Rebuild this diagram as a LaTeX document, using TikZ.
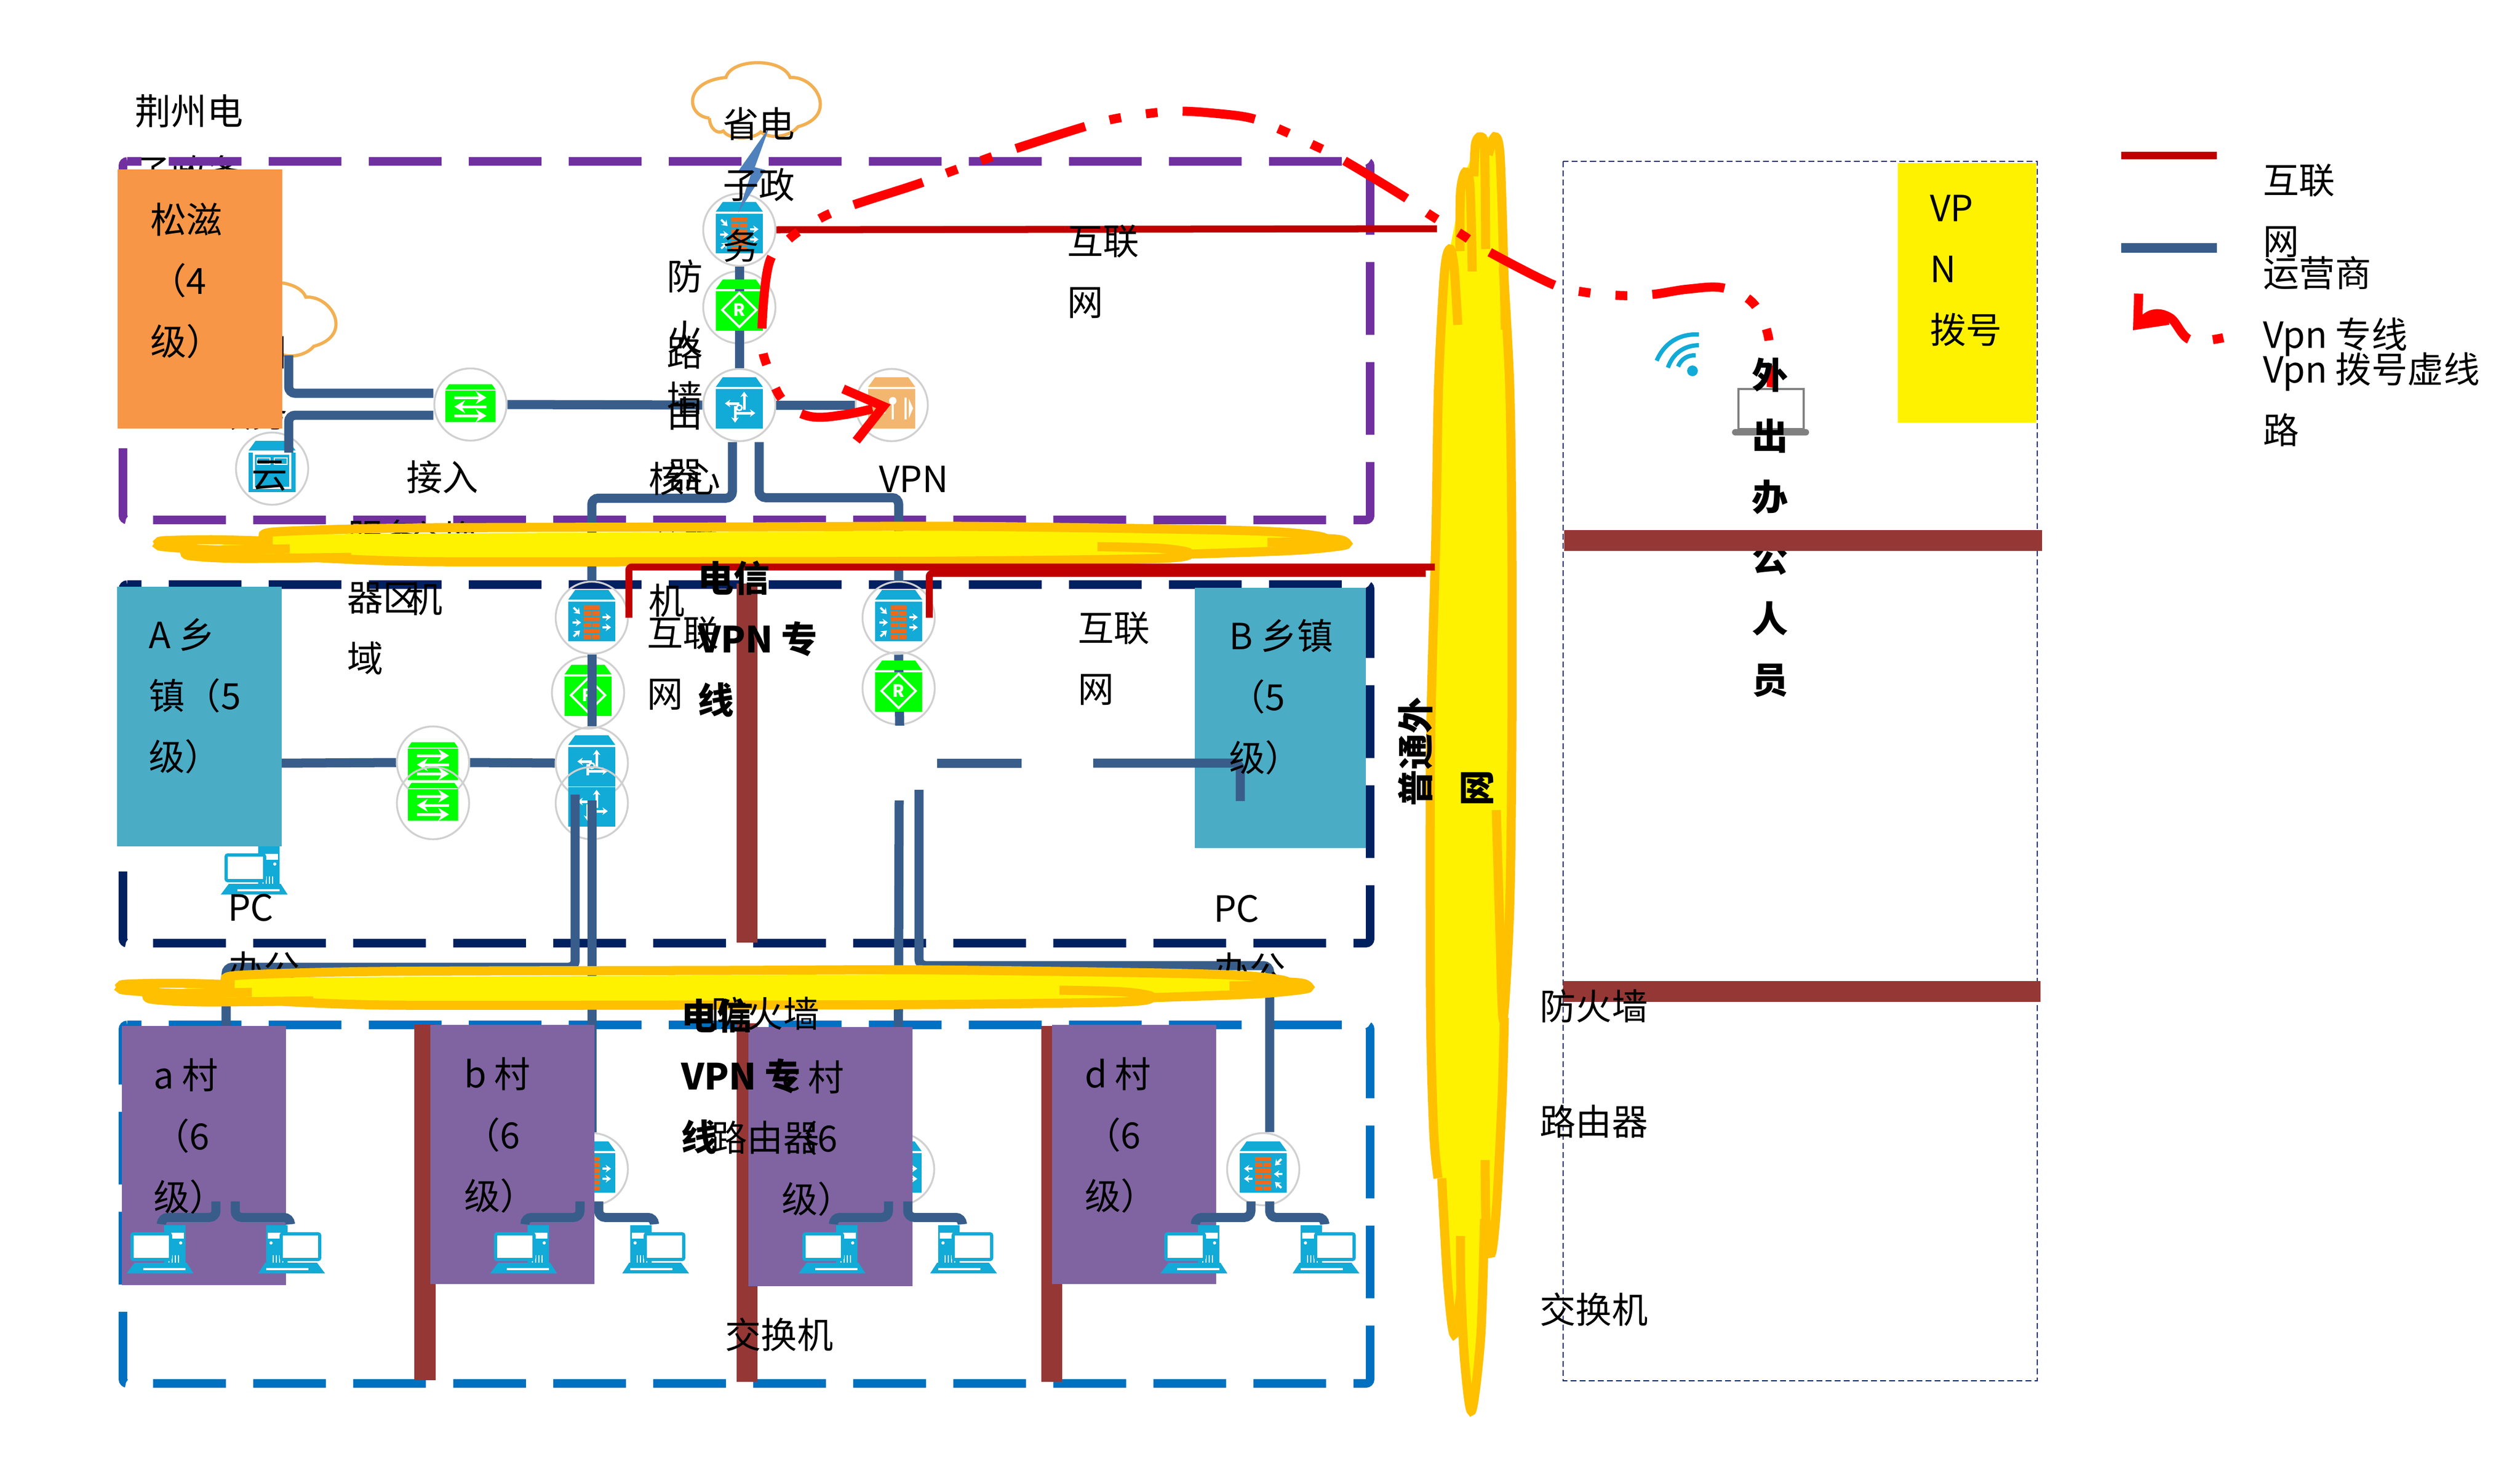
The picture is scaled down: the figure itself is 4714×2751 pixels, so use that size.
\documentclass[tikz,border=0pt]{standalone}
\usepackage{fontspec}
\newfontfamily\cjk{Noto Sans CJK SC}
\usetikzlibrary{arrows.meta}

\definecolor{zonepurple}{HTML}{7030A0}
\definecolor{zonenavy}{HTML}{002060}
\definecolor{zoneblue}{HTML}{0070C0}
\definecolor{steel}{HTML}{385D8A}
\definecolor{netred}{HTML}{C00000}
\definecolor{brownbar}{HTML}{953735}
\definecolor{gold}{HTML}{FFC000}
\definecolor{devblue}{HTML}{12AAD6}
\definecolor{brick}{HTML}{EE6A1B}
\definecolor{vpnorange}{HTML}{F3B670}
\definecolor{ringgray}{HTML}{D0D0D0}
\definecolor{cloudtan}{HTML}{F2B053}
\definecolor{boxorange}{HTML}{F79646}
\definecolor{boxteal}{HTML}{4BACC6}
\definecolor{boxviolet}{HTML}{8064A2}
\definecolor{boltblue}{HTML}{4F81BD}

\newcommand{\devbody}[1]{
    \fill[#1] (-44,-34) -- (-31,-52) -- (31,-52) -- (44,-34) -- cycle;
    \fill[#1] (-44,-30) rectangle (44,44);
}

\tikzset{
    lblbase/.style={anchor=north west, inner sep=0pt, outer sep=0pt, align=left,
        font=\cjk\fontsize{19.2}{32.4}\selectfont, execute at begin node={\strut}},
    lbl/.style={lblbase, xshift=-.02cm, yshift=.30cm},
    lblone/.style={lblbase, xshift=-.02cm, yshift=.55cm},
    lblbold/.style={lbl, font=\cjk\bfseries\fontsize{19.2}{32.4}\selectfont},
    zone/.style={line width=.16cm, rounded corners=.08cm, dash pattern=on 1.36cm off .51cm, dash phase=1.095cm},
    uplink/.style={steel, line width=.17cm, rounded corners=.12cm},
    redlink/.style={netred, line width=.13cm, rounded corners=.06cm},
    brownline/.style={brownbar, line width=.39cm},
    vpnline/.style={red, line width=.17cm, dash pattern=on 1.36cm off .47cm on .22cm off .47cm on .22cm off .47cm,
        -{Straight Barb[length=.65cm,width=1cm]}},
    edgecloud/.style={gold, line width=.17cm},
    region/.style={fill=#1, anchor=north west, inner sep=0pt, outer sep=0pt},
    devring/.style={circle, draw=ringgray, line width=.035cm, minimum size=1.35cm, inner sep=0pt},
    pcbox/.style={minimum width=1.24cm, minimum height=.89cm, inner sep=0pt},
    iconarrow/.style={white, line width=.04cm, -{Stealth[length=.1cm,width=.14cm]}},
    swarrow/.style={white, line width=.05cm, -{Stealth[length=.2cm,width=.24cm]}},
    netcloud/.pic={
        \draw[cloudtan, line width=.06cm] (34,104) .. controls (-10,100) and (-15,35) .. (65,28)
            .. controls (75,-8) and (170,-10) .. (185,28) .. controls (235,25) and (275,100) .. (200,120)
            .. controls (185,138) and (150,145) .. (130,130) .. controls (115,145) and (70,145) .. (60,128)
            .. controls (50,135) and (35,125) .. (34,104);
    },
    fwicon/.pic={
        \devbody{devblue}
        \foreach \r in {0,2,4} {
            \fill[brick] (-15,{-23+11*\r}) rectangle (15,{-15.5+11*\r});
        }
        \foreach \r in {1,3,5} {
            \fill[brick] (-15,{-23+11*\r}) rectangle (-1,{-15.5+11*\r});
            \fill[brick] (1,{-23+11*\r}) rectangle (15,{-15.5+11*\r});
        }
        \draw[iconarrow] (20,-1) -- (36,-1);
        \draw[iconarrow] (20,18) -- (36,18);
        \draw[iconarrow] (-36,9) -- (-20,9);
        \draw[iconarrow] (-34,-19) -- (-22,-7);
        \draw[iconarrow] (-34,35) -- (-22,24);
    },
    rticon/.pic={
        \devbody{devblue}
        \draw[iconarrow, line width=.05cm] (0,-3) -- (-27,-3);
        \draw[iconarrow, line width=.05cm] (9,9) -- (9,-25);
        \draw[iconarrow, line width=.05cm] (-10,15) -- (30,15);
        \draw[iconarrow, line width=.05cm] (-8,2) -- (-8,33);
        \draw[white, line width=.03cm] (0,5) circle[radius=.05cm];
    },
    rgicon/.pic={
        \devbody{green}
        \draw[white, line width=.04cm] (0,-27) -- (32,5) -- (0,37) -- (-32,5) -- cycle;
        \node[text=white, font=\cjk\bfseries\fontsize{9}{9}\selectfont, inner sep=0pt] (rmark) at (0,5) {R};
    },
    swicon/.pic={
        \fill[green] (-47,-28) -- (-40,-38) -- (40,-38) -- (47,-28) -- cycle;
        \fill[green] (-47,-26) rectangle (47,33);
        \draw[swarrow] (-30,-13) -- (30,-13);
        \draw[swarrow] (30,4) -- (-30,4);
        \draw[swarrow] (-30,21) -- (30,21);
    },
    svicon/.pic={
        \devbody{devblue}
        \draw[white, line width=.04cm] (-34,-28) rectangle (34,36);
        \draw[white, line width=.02cm] (-28,-20) rectangle (-4,-8);
        \draw[white, line width=.02cm] (4,-20) rectangle (28,-8);
    },
    vpicon/.pic={
        \devbody{vpnorange}
        \fill[white] (2,-8) circle[radius=.07cm];
        \draw[white, line width=.04cm] (2,-8) -- (2,27);
        \draw[white, line width=.04cm] (26,-14) -- (26,27);
        \fill[white] (32,-12) -- (40,6) -- (32,25) -- cycle;
        \draw[iconarrow] (-30,-2) -- (-12,-2);
        \draw[iconarrow] (-12,14) -- (-30,14);
    },
    pcicon/.pic={
        \fill[devblue] (5,-46) rectangle (45,28);
        \fill[white] (10,-32) rectangle (42,-21);
        \fill[white] (36,-13) circle[radius=.03cm];
        \foreach \v in {14,20,26,32} {
            \draw[white, line width=.015cm] (\v,10) -- (\v,24);
        }
        \fill[devblue] (60,44) -- (-65,44) -- (-50,24) -- (47,24) -- cycle;
        \fill[white] (-34,34) rectangle (45,38);
        \fill[devblue] (-33,28) rectangle (0,33);
        \draw[devblue, line width=.06cm, fill=white, rounded corners=.03cm] (-55,-30) rectangle (17,18);
    },
    bandcloud/.pic={
        \fill[yellow] (510,1000) -- (2300,990) -- (2480,1012) -- (2225,1040) -- (1300,1050) -- (600,1045) -- (370,1030) -- cycle;
        \draw[edgecloud] plot[smooth, tension=.5] coordinates {(510,1013) (400,1010) (305,1012) (298,1018) (305,1023) (400,1029) (542,1027)};
        \draw[edgecloud] plot[smooth, tension=.5] coordinates {(657,1043) (450,1045) (355,1040) (349,1030) (370,1025)};
        \draw[edgecloud] plot[smooth, tension=.5] coordinates {(495,1004) (520,995) (780,988) (1430,986) (1800,985) (2245,991) (2400,996) (2474,1005) (2467,1013) (2371,1015)};
        \draw[edgecloud] plot[smooth, tension=.5] coordinates {(2053,1023) (2170,1026) (2225,1035) (2170,1045) (1790,1050) (1300,1051) (800,1051) (600,1044)};
        \draw[edgecloud] plot[smooth, tension=.5] coordinates {(2225,1037) (2420,1030) (2512,1021) (2517,1014) (2500,1009) (2440,1006)};
    }
}

\begin{document}
\begin{tikzpicture}[x=.01cm, y=-.01cm]
        \useasboundingbox (0,0) rectangle (4714,2751);

        % labels and clouds that the boxes cover
        \node[lbl] (lbjingzhou) at (254,207) {荆州电\\子政务};
        \pic at (1293,117) {netcloud};
        \pic at (387,528) {netcloud};
        \node[devring] (svyun) at (509,877) {};
        \pic at (svyun) {svicon};
        \node[lbl, anchor=north east, align=right] (lbyun) at (540,659) {荆州\\政务\\云};

        \foreach \col/\top in {zonepurple/302, zonenavy/1094, zoneblue/1918} {
            \draw[zone, \col] (230,\top) -- (2563,\top) -- (2563,{\top+671}) -- (230,{\top+671}) -- cycle;
        }

        \draw[brownline] (1397,1092) -- (1397,1764);
        \draw[brownline] (795,1917) -- (795,2583);
        \draw[brownline] (1397,1915) -- (1397,2586);
        \draw[brownline] (1967,1920) -- (1967,2586);

        % devices of the town A zone
        \node[devring] (fwza) at (1107,1156) {};
        \pic at (fwza) {fwicon};
        \node[devring] (rgza) at (1100,1296) {};
        \pic at (rgza) {rgicon};
        \node[devring] (rtza1) at (1107,1428) {};
        \pic at (rtza1) {rticon};
        \node[devring] (rtza2) at (1107,1503) {};
        \pic at (rtza2) {rticon};
        \node[devring] (swza1) at (810,1427) {};
        \pic at (swza1) {swicon};
        \node[devring] (swza2) at (810,1503) {};
        \pic at (swza2) {swicon};

        % village firewalls
        \node[devring] (fwa) at (423,2188) {};
        \pic at (fwa) {fwicon};
        \node[devring] (fwb) at (1107,2188) {};
        \pic at (fwb) {fwicon};
        \node[devring] (fwc) at (1680,2188) {};
        \pic at (fwc) {fwicon};
        \node[devring] (fwd) at (2363,2188) {};
        \pic[xscale=-1] at (fwd) {fwicon};

        \coordinate (zbup) at (1682,1498);
        \coordinate (zbdn) at (1719,1478);
        \draw[uplink] (fwza.south) -- (rtza1.north);
        \draw[uplink] ([shift={(-.31cm,.16cm)}]rtza2.center) -- ++(0,323) -| (fwa.north);
        \draw[uplink] ([yshift=.05cm]rtza2.center) -- (fwb.north);
        \draw[uplink] (zbup) -- (fwc.north);
        \draw[uplink] (zbdn) |- (2200,1807) -| ([xshift=.12cm]fwd.north);

        \node[pcbox] (pca) at (478,1630) {};
        \pic at (pca) {pcicon};

        % colour boxes
        \node[region=boxorange, minimum width=3.08cm, minimum height=4.85cm] (bxsongzi) at (220,317) {};
        \node[region=boxteal, minimum width=3.08cm, minimum height=4.86cm] (boxa) at (219,1098) {};
        \node[region=boxteal, minimum width=3.2cm, minimum height=4.87cm] (boxb) at (2235,1100) {};
        \foreach \n/\x/\y in {boxva/228/1920, boxvb/805/1918, boxvc/1400/1922, boxvd/1968/1918} {
            \node[region=boxviolet, minimum width=3.07cm, minimum height=4.85cm] (\n) at (\x,\y) {};
        }

        % links over the boxes
        \draw[uplink] ([yshift=-.87cm]boxa.east) -- (swza1.west);
        \draw[uplink] (swza1.east) -- (rtza1.west);
        \coordinate (zbwa) at (1753,1428);
        \coordinate (zbwb) at (1911,1428);
        \coordinate (zbwc) at (2045,1428);
        \coordinate (zbwd) at (2320,1499);
        \draw[uplink] (zbwa) -- (zbwb);
        \draw[uplink] (zbwc) -| (zbwd);

        % village PCs
        \foreach \g/\xl/\xr/\sl/\sr in {a/302/543/-.19/.17, b/982/1224/-.22/.13, c/1559/1800/-.18/.18, d/2236/2478/-.23/.12} {
            \node[pcbox] (pc\g l) at (\xl,2339) {};
            \node[pcbox] (pc\g r) at (\xr,2339) {};
            \pic at (pc\g l) {pcicon};
            \pic[xscale=-1] at (pc\g r) {pcicon};
            \draw[uplink, shorten >=.07cm] ([shift={(\sl cm,.09cm)}]fw\g.south) -- ++(0,30) -| (pc\g l.north);
            \draw[uplink, shorten >=.07cm] ([shift={(\sr cm,.09cm)}]fw\g.south) -- ++(0,30) -| (pc\g r.north);
        }

        % devices of the top zone and of town B
        \node[devring] (swtop) at (880,757) {};
        \pic at (swtop) {swicon};
        \node[devring] (fwtop) at (1383,430) {};
        \node[devring] (rgtop) at (1383,575) {};
        \node[devring] (rttop) at (1383,758) {};
        \node[devring] (vpngw) at (1668,758) {};
        \node[devring] (fwzb) at (1681,1156) {};
        \node[devring] (rgzb) at (1681,1288) {};
        \coordinate (cloudtail) at (540,665);
        \coordinate (svtail) at (540,847);
        \coordinate (zbstub) at (1683,1358);
        \draw[uplink] (cloudtail) |- ([yshift=.21cm]swtop.west);
        \draw[uplink] (svtail) |- ([yshift=-.2cm]swtop.west);
        \draw[uplink] (swtop.east) -- (rttop.west);
        \draw[uplink] (fwtop.south) -- (rttop.north);
        \draw[uplink] (rttop.east) -- (vpngw.west);
        \draw[uplink] ([xshift=-.13cm]rttop.south) -- ++(0,105) -| (fwza.north);
        \draw[uplink] ([xshift=.37cm]rttop.south) -- ++(0,104) -| (fwzb.north);
        \draw[uplink] (fwzb.south) -- (zbstub);
        \pic at (fwtop) {fwicon};
        \pic at (rgtop) {rgicon};
        \pic at (rttop) {rticon};
        \pic at (vpngw) {vpicon};
        \pic at (fwzb) {fwicon};
        \pic at (rgzb) {rgicon};

        \node[lbl] (lbserver) at (651,1003) {服务\\器区\\域};
        \node[lbl] (lbaccess) at (762,892) {接入\\交换\\机};
        \node[lbl] (lbcore) at (1215,895) {核心\\交换\\机};
        \node[lbl] (lbpca) at (428,1703) {PC\\办公};
        \node[lbl] (lbpcb) at (2272,1705) {PC\\办公};

        % yellow clouds
        \pic at (0,0) {bandcloud};
        \pic at (-71,830) {bandcloud};
        \fill[yellow] (2712,466) -- (2741,322) -- (2769,256) -- (2796,256) -- (2813,500) -- (2824,720) -- (2828,1000)
            -- (2828,1500) -- (2824,1700) -- (2812,1905) -- (2800,2250) -- (2790,2345) -- (2777,2290) -- (2753,2640)
            -- (2733,2415) -- (2720,2500) -- (2695,2205) -- (2680,2100) -- (2676,1889) -- (2676,1400) -- (2686,1000) -- (2691,720) -- cycle;
        \draw[edgecloud] plot[smooth, tension=.5] coordinates {(2727,608) (2720,500) (2712,466) (2702,510) (2691,720) (2686,1000) (2676,1400) (2676,1889) (2682,2120) (2690,2205)};
        \draw[edgecloud] plot[smooth, tension=.5] coordinates {(2731,470) (2732,360) (2741,322) (2750,350) (2754,508)};
        \draw[edgecloud] plot[smooth, tension=.5] coordinates {(2757,330) (2760,270) (2769,256) (2777,280) (2779,466)};
        \draw[edgecloud] plot[smooth, tension=.5] coordinates {(2784,290) (2796,256) (2806,290) (2813,500) (2816,617)};
        \draw[edgecloud] plot[smooth, tension=.5] coordinates {(2812,500) (2824,720) (2828,1000) (2828,1400) (2824,1700) (2812,1905) (2806,1750) (2799,1516)};
        \draw[edgecloud] plot[smooth, tension=.5] coordinates {(2814,1905) (2810,2050) (2800,2250) (2790,2345) (2780,2290) (2778,2171)};
        \draw[edgecloud] plot[smooth, tension=.5] coordinates {(2777,2281) (2770,2500) (2753,2640) (2740,2550) (2733,2415) (2732,2313)};
        \draw[edgecloud] plot[smooth, tension=.5] coordinates {(2733,2415) (2720,2497) (2708,2400) (2697,2205)};

        % red internet lines
        \coordinate (cloudra) at (2688,428);
        \coordinate (cloudrb) at (2684,1061);
        \coordinate (cloudrc) at (2667,1073);
        \draw[redlink] (fwtop.east) -- (cloudra);
        \draw[redlink] (fwza.east) |- (cloudrb);
        \draw[redlink] ([xshift=-.12cm]fwzb.east) |- (cloudrc);

        % remote office
        \draw[zonenavy, line width=.025cm, dash pattern=on .11cm off .06cm] (2924,302) rectangle (3811,2584);
        \node[region=yellow, minimum width=2.59cm, minimum height=4.86cm] (boxvpn) at (3550,305) {};

        \draw[gray, line width=.04cm, fill=white] (3252,728) rectangle (3374,803);
        \draw[gray, line width=.12cm, line cap=round] (3246,809) -- (3378,809);
        \fill[devblue] (3166,694) circle[radius=.1cm];
        \draw[devblue, line width=.08cm] (3099,675) to[bend left=35] (3178,626);
        \draw[devblue, line width=.08cm] (3120,688) to[bend left=35] (3178,646);
        \draw[devblue, line width=.08cm] (3139,686) to[bend left=35] (3172,665);

        % vpn dial-up line
        \draw[vpnline, dash phase=.95cm] plot[smooth, tension=.6] coordinates {(3313,725) (3313,704) (3307,626) (3279,567) (3224,539) (3158,541) (3091,551) (3030,553) (2959,546) (2904,532) (2783,470) (2733,438) (2675,402) (2626,368) (2510,298) (2456,271) (2394,242) (2340,221) (2272,212) (2204,208) (2144,213) (2077,224) (2019,240) (1894,280) (1834,301) (1773,323) (1715,345) (1586,387) (1530,411) (1474,449) (1438,495) (1425,629) (1436,688) (1465,750) (1514,779) (1580,776) (1666,757)};

        \node[lblbold] (lbremote) at (3279,700) {外\\出\\办\\公\\人\\员};
        \draw[brownline] (2926,1011) -- (3820,1011);
        \draw[brownline] (2924,1855) -- (3817,1855);

        \fill[boltblue] (1439,238) -- (1382,319) -- (1405,325) -- (1381,398) -- (1432,318) -- (1412,313) -- cycle;

        % legend
        \coordinate (lgreda) at (3968,291);
        \coordinate (lgredb) at (4147,291);
        \coordinate (lgsta) at (3968,464);
        \coordinate (lgstb) at (4147,464);
        \draw[netred, line width=.14cm] (lgreda) -- (lgredb);
        \draw[steel, line width=.18cm] (lgsta) -- (lgstb);
        \draw[vpnline, dash pattern=on .2cm off .45cm on 4cm, -{Straight Barb[length=.45cm,width=.75cm]}] plot[smooth, tension=.6] coordinates {(4159,632) (4097,636) (4060,595) (4024,589) (3990,618)};

        % labels on top
        \node[lbl] (lbprov) at (1354,231) {省电\\子政\\务};
        \node[lbl] (lbfwtop) at (1249,516) {防\\火\\墙};
        \node[lbl] (lbrttop) at (1249,659) {路\\由\\器};
        \node[lblone] (lbvpn) at (1646,897) {VPN};
        \node[lbl] (lbnet) at (1998,451) {互联\\网};
        \node[lbl] (lbneta) at (1212,1184) {互联\\网};
        \node[lbl] (lbnetb) at (2018,1175) {互联\\网};
        \node[lblbold] (lbteleca) at (1307,1080) {电信\\VPN 专\\线};
        \node[lblbold] (lbtelecb) at (1276,1898) {电信\\VPN 专\\线};
        \node[lblone] (lbfwc) at (1332,1898) {防火墙};
        \node[lblone] (lbrtc) at (1332,2130) {路由器};
        \node[lblone] (lbswc) at (1358,2499) {交换机};
        \node[lblone] (lbfwr) at (2882,1884) {防火墙};
        \node[lblone] (lbrtr) at (2882,2100) {路由器};
        \node[lblone] (lbswr) at (2882,2452) {交换机};
        \node[lbl] (lbsongzi) at (283,410) {松滋\\（4\\级）};
        \node[lbl] (lbtowna) at (280,1187) {A 乡\\镇（5\\级）};
        \node[lbl] (lbtownb) at (2301,1189) {B 乡镇\\（5\\级）};
        \node[lbl] (lbvila) at (289,2011) {a 村\\（6\\级）};
        \node[lbl] (lbvilb) at (870,2009) {b 村\\（6\\级）};
        \node[lbl] (lbvilc) at (1464,2015) {c 村\\（6\\级）};
        \node[lbl] (lbvild) at (2031,2009) {d 村\\（6\\级）};
        \node[lbl] (lbdial) at (3612,395) {VP\\N\\拨号};
        \node[lblbase, font=\cjk\bfseries\fontsize{19.2}{32.4}\selectfont, rotate=90] (lboutside) at (2615,1508) {普通外\\网};
        \node[lbl] (lglink) at (4235,337) {互联\\网};
        \node[lblone] (lgcarrier) at (4235,512) {运营商};
        \node[lblone] (lgvpn) at (4235,627) {Vpn 专线};
        \node[lbl] (lgdial) at (4235,690) {Vpn 拨号虚线\\路};
\end{tikzpicture}
\end{document}
